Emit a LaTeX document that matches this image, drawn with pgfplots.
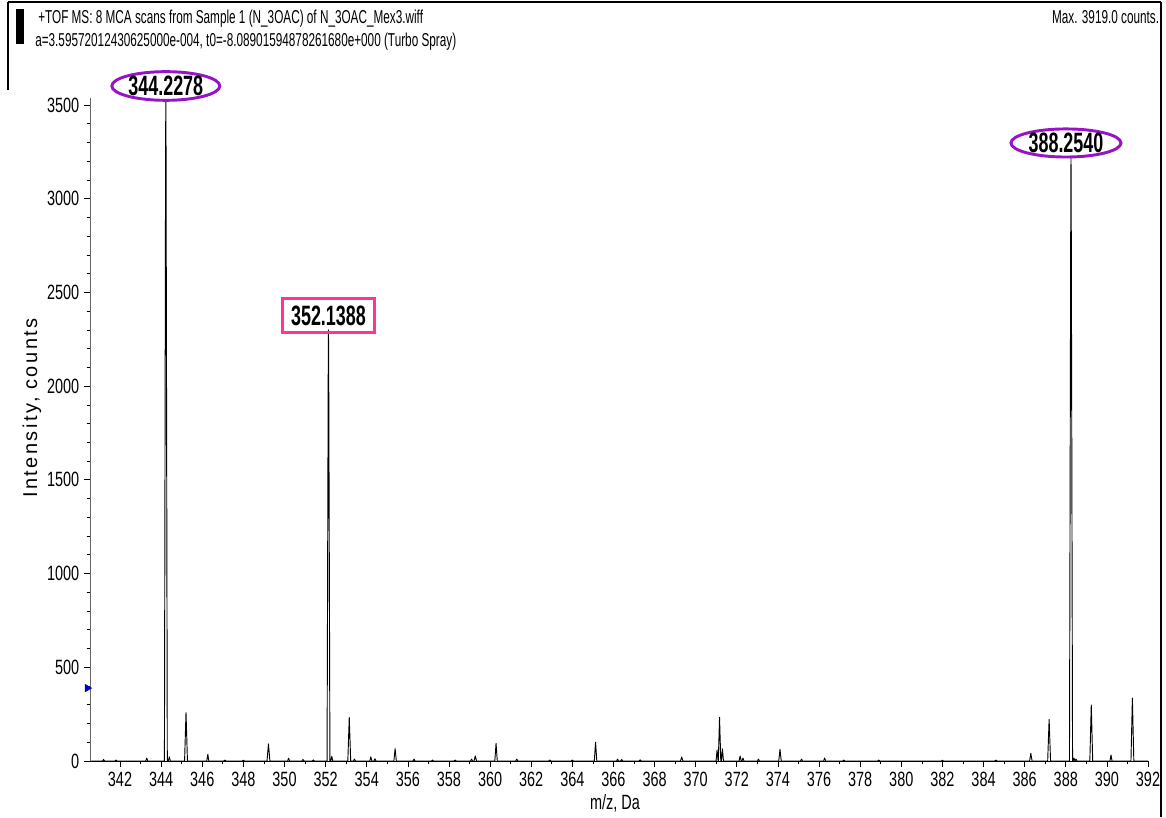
\documentclass[border=0pt]{standalone}
\usepackage{pgfplots}
\pgfplotsset{compat=1.18}
\usetikzlibrary{shapes.geometric}
\usepackage{fontspec}
\setmainfont{Liberation Sans}
\newfontfamily\narrow[FakeStretch=0.7]{Liberation Sans}
\newfontfamily\hdr[FakeStretch=0.63]{Liberation Sans}
\newfontfamily\lbl[FakeStretch=0.64]{Liberation Sans}
\newfontfamily\spaced[LetterSpace=12]{Liberation Sans}
\definecolor{peakpurple}{RGB}{150,20,200}
\definecolor{peakpink}{RGB}{255,51,153}
\begin{document}
\begin{tikzpicture}
\begin{axis}[
  at={(0,0)}, anchor=south west,
  scale only axis, width=793.5pt, height=497.25pt,
  xmin=340.54, xmax=392, ymin=0, ymax=3537,
  axis x line=bottom, axis y line=left,
  axis line style={-, line width=0.6pt},
  y axis line style={black!60},
  xtick={342,344,...,392}, minor x tick num=1,
  ytick={0,500,...,3500}, minor y tick num=4,
  tick align=outside,
  major tick length=4.5pt, minor tick length=2.5pt,
  tick style={black, line width=0.5pt},
  ticklabel style={font=\narrow\fontsize{15.5pt}{17pt}\selectfont},
  /pgf/number format/assume math mode=true,
  /pgf/number format/1000 sep={},
  clip=false,
]
\addplot[black, line width=0.7pt, line join=round] coordinates {
(340.6,0)
(341.15,0)(341.2,8)(341.25,0)
(341.75,0)(341.8,5)(341.85,0)
(343.25,0)(343.3,15)(343.35,0)
(344.16,0)(344.2178,3300)(344.2278,3530)(344.2378,3300)(344.30,0)(344.35,0)(344.4,22)(344.45,0)
(345.14,0)(345.21,258)(345.28,0)
(346.22,0)(346.27,36)(346.32,0)
(347.05,0)(347.1,5)(347.15,0)
(347.95,0)(348.0,4)(348.05,0)
(349.15,0)(349.22,91)(349.29,0)
(350.15,0)(350.2,15)(350.25,0)
(350.85,0)(350.9,8)(350.95,0)
(351.35,0)(351.4,6)(351.45,0)
(352.07,0)(352.1288,2150)(352.1388,2300)(352.1488,2150)(352.21,0)(352.25,0)(352.3,25)(352.35,0)
(353.08,0)(353.15,233)(353.22,0)(353.35,0)(353.4,10)(353.45,0)
(354.15,0)(354.2,22)(354.25,0)(354.35,0)(354.4,12)(354.45,0)
(355.32,0)(355.38,66)(355.44,0)
(356.25,0)(356.3,10)(356.35,0)
(357.15,0)(357.2,5)(357.25,0)
(358.25,0)(358.3,5)(358.35,0)
(359.05,0)(359.1,10)(359.15,0)(359.22,0)(359.28,27)(359.34,0)
(360.23,0)(360.29,94)(360.35,0)
(361.25,0)(361.3,10)(361.35,0)
(362.85,0)(362.9,5)(362.95,0)
(363.95,0)(364.0,5)(364.05,0)
(365.07,0)(365.13,100)(365.19,0)
(366.15,0)(366.2,10)(366.25,0)(366.35,0)(366.4,8)(366.45,0)
(367.25,0)(367.3,6)(367.35,0)
(369.26,0)(369.32,21)(369.38,0)
(370.99,0)(371.04,59)(371.09,0)(371.1,0)(371.16,233)(371.22,0)(371.25,0)(371.3,65)(371.35,0)
(372.11,0)(372.16,27)(372.21,0)(372.25,0)(372.3,15)(372.35,0)
(373.0,0)(373.05,10)(373.1,0)
(374.04,0)(374.1,62)(374.16,0)
(375.1,0)(375.15,10)(375.2,0)
(376.22,0)(376.27,16)(376.32,0)
(377.15,0)(377.2,5)(377.25,0)
(378.85,0)(378.9,5)(378.95,0)
(381.95,0)(382.0,4)(382.05,0)
(384.55,0)(384.6,5)(384.65,0)
(386.24,0)(386.3,41)(386.36,0)
(387.12,0)(387.19,222)(387.26,0)
(388.18,0)(388.244,3000)(388.254,3218)(388.264,3000)(388.33,0)(388.36,0)(388.4,15)(388.45,0)(388.5,10)(388.55,0)
(389.17,0)(389.24,299)(389.31,0)
(390.15,0)(390.2,32)(390.25,0)
(391.17,0)(391.24,336)(391.31,0)
(392,0)
};
\addplot[only marks, mark=triangle*, mark size=3.2pt, blue!80!black, mark options={rotate=-90}] coordinates {(340.41,389)};
\node[ellipse, draw=peakpurple, line width=2.2pt, inner sep=0pt, minimum width=81pt, minimum height=21.5pt, font=\lbl\bfseries\fontsize{21pt}{22pt}\selectfont] at (axis cs:344.2278,3601) {344.2278};
\node[rectangle, draw=peakpink, line width=2.2pt, inner sep=0pt, minimum width=69pt, minimum height=26pt, font=\lbl\bfseries\fontsize{21pt}{22pt}\selectfont] at (axis cs:352.1388,2377) {352.1388};
\node[ellipse, draw=peakpurple, line width=2.2pt, inner sep=0pt, minimum width=82.5pt, minimum height=20.5pt, font=\lbl\bfseries\fontsize{21pt}{22pt}\selectfont] at (axis cs:388.01,3297) {388.2540};
\end{axis}
% frame and header
\draw[line width=0.8pt] (-61.5pt,569.25pt) -- (803.25pt,569.25pt);
\draw[line width=0.8pt] (-61.5pt,569.25pt) -- (-61.5pt,503.25pt);
\draw[line width=0.8pt] (803.25pt,569.25pt) -- (803.25pt,-42pt);
\fill (-55.5pt,537.75pt) rectangle (-49.5pt,564pt);
\node[anchor=west, inner sep=0pt] at (-39pt,556.5pt) {\hdr\fontsize{14pt}{16pt}\selectfont +TOF MS: 8 MCA scans from Sample 1 (N\_3OAC) of N\_3OAC\_Mex3.wiff};
\node[anchor=west, inner sep=0pt] at (-41.25pt,539.25pt) {\hdr\fontsize{14pt}{16pt}\selectfont a=3.59572012430625000e-004, t0=-8.08901594878261680e+000 (Turbo Spray)};
\node[anchor=east, inner sep=0pt] at (802pt,558pt) {\hdr\fontsize{14pt}{16pt}\selectfont Max. 3919.0 counts.};
\node[rotate=90] at (-43.5pt,264.75pt) {\spaced\fontsize{15pt}{18pt}\selectfont Intensity, counts};
\node at (393.75pt,-31.5pt) {\narrow\fontsize{15.5pt}{18pt}\selectfont m/z, Da};
\pgfresetboundingbox
\path[use as bounding box] (-67.5pt,-42pt) rectangle (807pt,570.75pt);
\end{tikzpicture}
\end{document}
